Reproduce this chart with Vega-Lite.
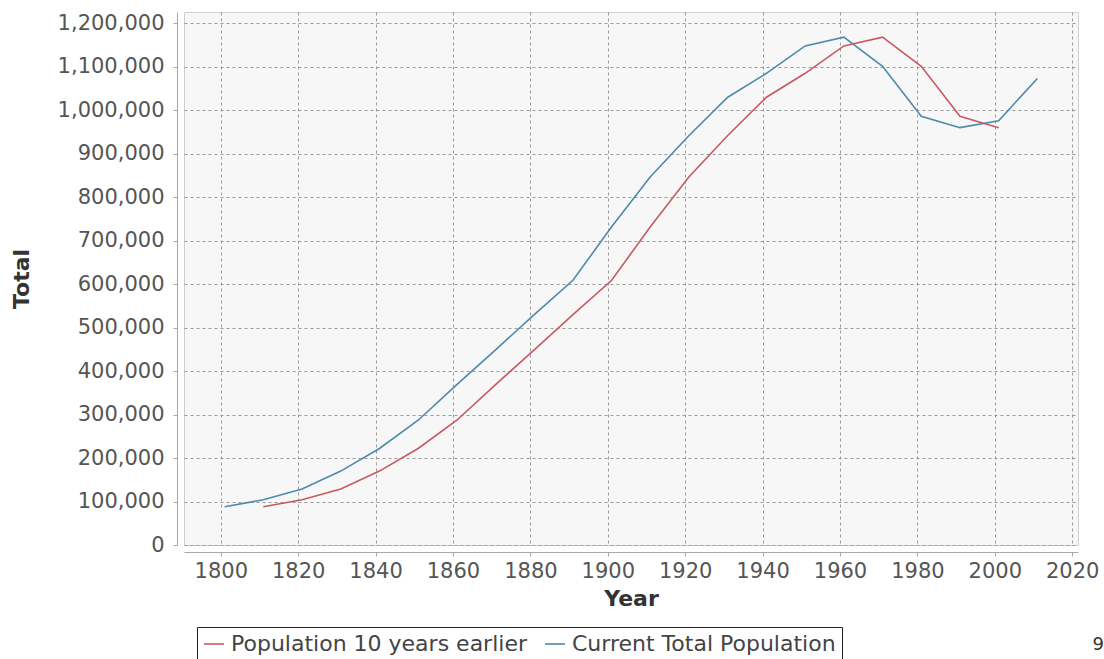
{
  "$schema": "https://vega.github.io/schema/vega-lite/v6.json",
  "width": 894,
  "height": 533,
  "autosize": {"type": "none"},
  "padding": {"left": 184, "top": 12, "right": 26, "bottom": 114},
  "background": "white",
  "title": {"text": "9", "orient": "bottom", "anchor": "end", "frame": "group", "dx": 26, "offset": -26, "fontSize": 18, "fontWeight": "normal", "color": "#333", "font": "DejaVu Sans"},
  "config": {
    "font": "DejaVu Sans",
    "view": {"fill": "#f7f7f7", "stroke": "#cfcfcf"},
    "axis": {
      "grid": true,
      "gridDash": [3, 3],
      "gridColor": "#9a9a9a",
      "gridWidth": 1,
      "domainColor": "#a8a8a8",
      "tickColor": "#a8a8a8",
      "tickSize": 4,
      "labelFont": "DejaVu Sans",
      "labelFontSize": 21,
      "labelColor": "#555555",
      "titleFont": "DejaVu Sans",
      "titleFontSize": 22,
      "titleFontWeight": "bold",
      "titleColor": "#333333"
    },
    "legend": {"labelFont": "DejaVu Sans"}
  },
  "data": {
    "values": [
      {"year": 1801, "value": 88000, "series": "Current Total Population"},
      {"year": 1811, "value": 104000, "series": "Current Total Population"},
      {"year": 1821, "value": 129000, "series": "Current Total Population"},
      {"year": 1831, "value": 170000, "series": "Current Total Population"},
      {"year": 1841, "value": 222000, "series": "Current Total Population"},
      {"year": 1851, "value": 287000, "series": "Current Total Population"},
      {"year": 1861, "value": 369000, "series": "Current Total Population"},
      {"year": 1871, "value": 449000, "series": "Current Total Population"},
      {"year": 1881, "value": 530000, "series": "Current Total Population"},
      {"year": 1891, "value": 609000, "series": "Current Total Population"},
      {"year": 1901, "value": 732000, "series": "Current Total Population"},
      {"year": 1911, "value": 847000, "series": "Current Total Population"},
      {"year": 1921, "value": 942000, "series": "Current Total Population"},
      {"year": 1931, "value": 1030000, "series": "Current Total Population"},
      {"year": 1941, "value": 1085000, "series": "Current Total Population"},
      {"year": 1951, "value": 1148000, "series": "Current Total Population"},
      {"year": 1961, "value": 1168000, "series": "Current Total Population"},
      {"year": 1971, "value": 1101000, "series": "Current Total Population"},
      {"year": 1981, "value": 986000, "series": "Current Total Population"},
      {"year": 1991, "value": 960000, "series": "Current Total Population"},
      {"year": 2001, "value": 976000, "series": "Current Total Population"},
      {"year": 2011, "value": 1073000, "series": "Current Total Population"},
      {"year": 1811, "value": 88000, "series": "Population 10 years earlier"},
      {"year": 1821, "value": 104000, "series": "Population 10 years earlier"},
      {"year": 1831, "value": 129000, "series": "Population 10 years earlier"},
      {"year": 1841, "value": 170000, "series": "Population 10 years earlier"},
      {"year": 1851, "value": 222000, "series": "Population 10 years earlier"},
      {"year": 1861, "value": 287000, "series": "Population 10 years earlier"},
      {"year": 1871, "value": 369000, "series": "Population 10 years earlier"},
      {"year": 1881, "value": 449000, "series": "Population 10 years earlier"},
      {"year": 1891, "value": 530000, "series": "Population 10 years earlier"},
      {"year": 1901, "value": 609000, "series": "Population 10 years earlier"},
      {"year": 1911, "value": 732000, "series": "Population 10 years earlier"},
      {"year": 1921, "value": 847000, "series": "Population 10 years earlier"},
      {"year": 1931, "value": 942000, "series": "Population 10 years earlier"},
      {"year": 1941, "value": 1030000, "series": "Population 10 years earlier"},
      {"year": 1951, "value": 1085000, "series": "Population 10 years earlier"},
      {"year": 1961, "value": 1148000, "series": "Population 10 years earlier"},
      {"year": 1971, "value": 1168000, "series": "Population 10 years earlier"},
      {"year": 1981, "value": 1101000, "series": "Population 10 years earlier"},
      {"year": 1991, "value": 986000, "series": "Population 10 years earlier"},
      {"year": 2001, "value": 960000, "series": "Population 10 years earlier"}
    ]
  },
  "mark": {"type": "line", "strokeWidth": 1.6},
  "encoding": {
    "x": {
      "field": "year",
      "type": "quantitative",
      "scale": {"domain": [1790.5, 2021.5], "nice": false, "zero": false},
      "axis": {
        "title": "Year",
        "values": [1800, 1820, 1840, 1860, 1880, 1900, 1920, 1940, 1960, 1980, 2000, 2020],
        "format": "d",
        "offset": 7,
        "labelPadding": 4,
        "titlePadding": 7
      }
    },
    "y": {
      "field": "value",
      "type": "quantitative",
      "scale": {"domain": [0, 1226000], "nice": false},
      "axis": {
        "title": "Total",
        "values": [0, 100000, 200000, 300000, 400000, 500000, 600000, 700000, 800000, 900000, 1000000, 1100000, 1200000],
        "format": ",d",
        "offset": 7,
        "labelPadding": 9,
        "titlePadding": 24
      }
    },
    "color": {
      "field": "series",
      "type": "nominal",
      "scale": {
        "domain": ["Population 10 years earlier", "Current Total Population"],
        "range": ["#c65a63", "#4d8aab"]
      },
      "legend": {
        "title": null,
        "orient": "none",
        "direction": "horizontal",
        "legendX": 13,
        "legendY": 615,
        "symbolType": "stroke",
        "symbolSize": 400,
        "symbolStrokeWidth": 1.6,
        "labelFontSize": 22,
        "labelLimit": 500,
        "labelColor": "#444444",
        "labelOffset": 6,
        "columnPadding": 14,
        "padding": 6,
        "strokeColor": "#222222",
        "fillColor": "white"
      }
    }
  }
}
